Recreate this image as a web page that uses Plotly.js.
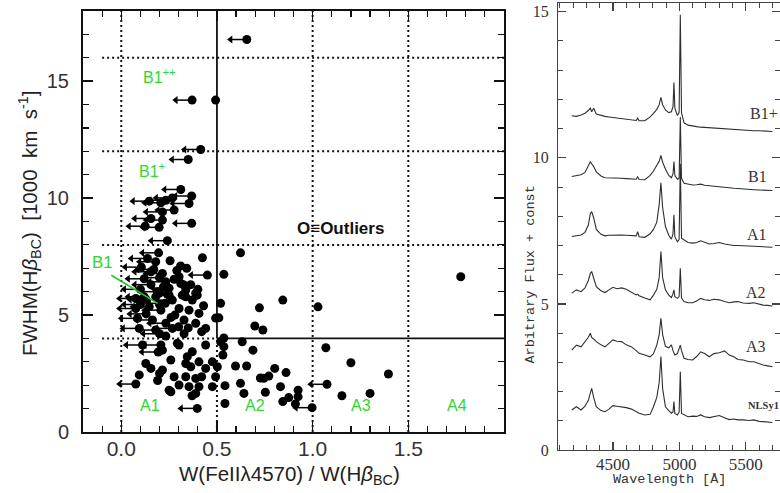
<!DOCTYPE html>
<html><head><meta charset="utf-8">
<script src="https://cdn.plot.ly/plotly-3.0.1.min.js"></script>
<style>html,body{margin:0;padding:0;background:#fff}#chart{width:780px;height:493px}</style>
</head><body><div id="chart"></div>
<script>
// ---------- Left panel data: FWHM(Hbeta_BC) vs R_FeII ----------
const detX = [0.493,0.623,0.424,0.255,0.342,0.536,0.302,0.276,0.311,0.363,0.328,0.337,0.389,0.198,0.25,0.319,0.397,0.18,0.337,0.371,0.519,0.302,0.354,0.406,0.493,0.51,0.328,0.389,0.441,0.328,0.233,0.42,0.844,0.722,1.028,0.698,0.74,1.774,
0.536,0.519,0.632,0.441,0.536,1.069,0.688,0.531,0.476,1.2,0.597,0.655,0.502,0.802,0.861,1.396,0.771,0.727,0.745,0.42,0.493,0.623,0.542,0.476,0.832,0.924,0.641,0.753,1.153,1.3,0.924,0.875,0.844,0.91,0.542,
0.302,0.215,0.345,0.371,0.406,0.128,0.155,0.215,0.259,0.337,0.363,0.441,0.094,0.276,0.337,0.389,0.302,0.354,0.406,0.25,0.389,0.293,0.19,0.2,0.37,0.259,
0.28,0.3,0.24,0.22,0.29,0.31,0.4,0.43,0.26,0.35,0.2];
const detY = [14.19,7.66,7.45,7.32,7.0,6.74,6.64,6.53,6.35,6.3,6.28,6.07,5.93,5.93,5.85,5.85,5.85,5.78,5.78,5.64,5.5,5.28,5.21,5.07,4.87,4.88,4.79,4.65,4.43,4.2,4.1,4.29,5.64,5.31,5.35,4.53,4.36,6.64,
4.02,3.86,3.86,3.72,3.65,3.6,3.5,3.29,3.0,2.96,2.82,2.82,2.79,2.72,2.54,2.48,2.39,2.31,2.3,2.36,2.36,2.08,1.98,1.94,1.94,1.79,1.65,1.7,1.55,1.65,1.51,1.47,1.3,1.2,1.22,
3.72,3.5,3.22,3.43,3.0,2.93,2.72,2.65,3.08,2.93,2.79,2.72,2.44,2.36,2.36,2.29,2.01,1.94,1.94,1.79,1.65,3.79,2.2,2.5,1.55,1.72,
5.0,4.5,5.9,6.2,6.9,7.1,6.1,5.4,4.9,4.45,5.45];
// upper limits in FeII (leftward arrows)
const limX = [0.656,0.37,0.415,0.35,0.311,0.368,0.267,0.233,0.146,0.207,0.354,0.276,0.215,0.155,0.215,0.368,0.125,0.198,0.241,0.195,0.137,0.18,0.155,0.215,0.45,0.233,0.155,0.13,0.076,0.267,0.076,0.146,0.207,0.085,0.163,0.233,0.094,0.18,0.267,0.111,0.207,0.193,0.076,0.397,0.997,1.075,0.12,0.189,0.105,0.17,0.12,0.2,0.1,0.25,0.1,0.23,0.13,0.2];
const limY = [16.78,14.19,12.08,11.65,10.37,10.09,10.01,9.91,9.87,9.8,9.77,9.49,9.41,9.13,9.06,8.92,8.8,8.75,8.18,7.66,7.42,7.28,6.85,6.78,6.71,6.42,6.3,5.66,5.71,5.64,5.28,5.36,5.21,4.86,4.79,4.65,4.43,4.36,4.43,3.72,3.72,3.42,2.05,1.01,1.04,2.04,5.78,6.0,7.05,6.95,6.55,6.6,6.1,6.15,5.45,5.5,5.05,4.2];
const fwhmBounds = [4, 8, 12, 16];
const feBounds = [0, 0.5, 1.0, 1.5];
const xTickVals = [0, 0.5, 1.0, 1.5];
const xTickText = ['0.0', '0.5', '1.0', '1.5'];
const yTickVals = [0, 5, 10, 15];
const zoneLabels = ['A1', 'A2', 'A3', 'A4'];
const zoneLabelX = [0.151, 0.7, 1.252, 1.755];
const zoneLabelY = 1.15;

// ---------- Right panel data: composite spectra ----------
const wavelength = [4190,4225,4260,4290,4315,4330,4340,4355,4375,4410,4440,4470,4500,4530,4565,4600,4640,4675,4686,4697,4740,4780,4805,4830,4848,4861,4874,4895,4920,4940,4952,4959,4966,4985,4998,5007,5016,5035,5065,5100,5130,5160,5190,5225,5260,5300,5340,5375,5410,5440,5480,5525,5560,5600,5630,5665,5700];
const fluxB1plus = [11.44,11.42,11.47,11.53,11.62,11.70,11.58,11.70,11.50,11.45,11.42,11.40,11.38,11.36,11.33,11.32,11.30,11.28,11.36,11.27,11.27,11.40,11.52,11.66,11.82,12.07,11.82,11.64,11.55,11.58,11.75,12.58,11.70,11.45,11.55,14.90,11.55,11.20,11.12,11.08,11.07,11.05,11.04,11.02,11.02,11.00,10.99,10.98,10.97,10.96,10.95,10.94,10.93,10.93,10.92,10.91,10.90];
const fluxB1 = [9.36,9.38,9.42,9.50,9.70,9.87,9.80,9.70,9.52,9.38,9.32,9.32,9.31,9.30,9.30,9.29,9.28,9.27,9.35,9.26,9.25,9.40,9.55,9.72,9.88,10.08,9.85,9.62,9.40,9.32,9.45,9.87,9.40,9.27,9.30,11.40,9.30,9.13,9.10,9.07,9.08,9.10,9.06,9.04,9.02,9.01,8.99,8.97,8.96,8.95,8.93,8.92,8.91,8.90,8.90,8.89,8.88];
const fluxA1 = [7.31,7.34,7.36,7.45,7.70,8.10,8.16,7.95,7.55,7.38,7.33,7.35,7.36,7.37,7.36,7.35,7.34,7.33,7.47,7.30,7.28,7.40,7.55,7.80,8.40,9.15,8.30,7.65,7.35,7.22,7.40,8.05,7.30,7.13,7.20,9.80,7.25,7.18,7.10,7.08,7.10,7.16,7.10,7.05,7.07,7.10,7.05,7.02,7.00,7.00,6.99,6.98,6.97,6.96,6.95,6.95,6.94];
const fluxA2 = [5.37,5.48,5.42,5.55,5.80,6.05,6.11,5.85,5.59,5.45,5.39,5.48,5.57,5.52,5.55,5.50,5.40,5.31,5.33,5.28,5.20,5.14,5.30,5.50,5.90,6.79,5.90,5.48,5.30,5.22,5.35,5.48,5.25,5.19,5.25,6.22,5.20,5.08,5.04,5.04,5.10,5.19,5.14,5.12,5.16,5.14,5.08,5.04,5.07,5.08,5.03,5.02,5.04,4.98,4.96,4.95,4.93];
const fluxA3 = [3.42,3.59,3.53,3.70,3.86,4.00,3.85,3.80,3.71,3.60,3.53,3.65,3.77,3.72,3.71,3.60,3.53,3.40,3.35,3.31,3.25,3.19,3.30,3.59,3.95,4.51,3.95,3.55,3.50,3.60,3.40,3.30,3.25,3.30,3.45,3.59,3.40,3.14,3.10,3.08,3.20,3.36,3.30,3.19,3.30,3.33,3.39,3.25,3.19,3.10,3.08,3.02,3.02,2.95,2.91,2.88,2.85];
const fluxNLSy1 = [1.37,1.48,1.37,1.50,1.70,2.00,2.11,1.80,1.48,1.35,1.31,1.40,1.52,1.50,1.48,1.45,1.40,1.31,1.30,1.26,1.20,1.22,1.48,1.80,2.30,3.20,2.10,1.48,1.35,1.26,1.30,1.66,1.25,1.20,1.30,2.68,1.25,1.20,1.14,1.16,1.15,1.20,1.14,1.11,1.15,1.18,1.10,1.04,1.06,1.03,1.03,1.01,1.03,0.98,0.97,0.96,0.94];
const spectra = [fluxB1plus, fluxB1, fluxA1, fluxA2, fluxA3, fluxNLSy1];
const spectrumLabels = ['B1+', 'B1', 'A1', 'A2', 'A3', 'NLSy1'];
const spectrumLabelX = [5640, 5590, 5582, 5578, 5578, 5631];
const spectrumLabelY = [11.53, 9.35, 7.39, 5.40, 3.54, 1.54];
const x2TickVals = [4500, 5000, 5500];
const y2TickVals = [0, 5, 10, 15];

// ---------- build traces ----------
const ARROW = 0.085;
const shaftX = [], shaftY = [], headX = [];
limX.forEach((x, i) => { shaftX.push(x, x - ARROW, null); shaftY.push(limY[i], limY[i], null); headX.push(x - ARROW); });

const traces = [
  {x: shaftX, y: shaftY, mode: 'lines', line: {color: '#000', width: 1.5}, xaxis: 'x', yaxis: 'y', hoverinfo: 'skip'},
  {x: headX, y: limY, mode: 'markers', marker: {symbol: 'triangle-left', size: 7, color: '#000'}, xaxis: 'x', yaxis: 'y'},
  {x: limX, y: limY, mode: 'markers', marker: {symbol: 'circle', size: 9, color: '#000'}, xaxis: 'x', yaxis: 'y'},
  {x: detX, y: detY, mode: 'markers', marker: {symbol: 'circle', size: 9, color: '#000'}, xaxis: 'x', yaxis: 'y'}
];
spectra.forEach(f => traces.push({x: wavelength, y: f, mode: 'lines', line: {color: '#2e2e2e', width: 1.1}, xaxis: 'x2', yaxis: 'y2', hoverinfo: 'skip'}));

// ---------- shapes (zone boundaries) ----------
const dotLine = {color: '#111', width: 2, dash: '2px,3px'};
const solidLine = {color: '#111', width: 1.8};
const shapes = [];
fwhmBounds.forEach(v => {
  if (v === 4) {
    shapes.push({type: 'line', xref: 'x', yref: 'y', x0: -0.1, x1: 0.5, y0: v, y1: v, line: dotLine, layer: 'below'});
    shapes.push({type: 'line', xref: 'x', yref: 'y', x0: 0.5, x1: 2.0, y0: v, y1: v, line: solidLine, layer: 'below'});
  } else {
    shapes.push({type: 'line', xref: 'x', yref: 'y', x0: -0.1, x1: 2.0, y0: v, y1: v, line: dotLine, layer: 'below'});
  }
});
feBounds.forEach(v => {
  if (v === 0.5) {
    shapes.push({type: 'line', xref: 'x', yref: 'y', x0: v, x1: v, y0: 0, y1: 4, line: dotLine, layer: 'below'});
    shapes.push({type: 'line', xref: 'x', yref: 'y', x0: v, x1: v, y0: 4, y1: 18, line: solidLine, layer: 'below'});
  } else {
    shapes.push({type: 'line', xref: 'x', yref: 'y', x0: v, x1: v, y0: 0, y1: 18, line: dotLine, layer: 'below'});
  }
});
// B1 pointer line
shapes.push({type: 'line', xref: 'x', yref: 'y', x0: -0.052, y0: 6.7, x1: 0.19, y1: 5.5, line: {color: '#22cc22', width: 1.6}});

// ---------- annotations ----------
const green = '#2fd62f';
const sans = 'Liberation Sans, Arial, sans-serif';
const serif = 'Liberation Serif, Times New Roman, serif';
const mono = 'Liberation Mono, Courier New, monospace';
const ann = [];
zoneLabels.forEach((t, i) => ann.push({xref: 'x', yref: 'y', x: zoneLabelX[i], y: zoneLabelY, text: t, showarrow: false, font: {family: sans, size: 16, color: green}}));
ann.push({xref: 'x', yref: 'y', x: 0.198, y: 15.21, text: 'B1<sup>++</sup>', showarrow: false, font: {family: sans, size: 16, color: green}});
ann.push({xref: 'x', yref: 'y', x: 0.161, y: 11.2, text: 'B1<sup>+</sup>', showarrow: false, font: {family: sans, size: 16, color: green}});
ann.push({xref: 'x', yref: 'y', x: -0.099, y: 7.26, text: 'B1', showarrow: false, font: {family: sans, size: 17, color: green}});
ann.push({xref: 'x', yref: 'y', x: 1.143, y: 8.72, text: '<b>O≡Outliers</b>', showarrow: false, font: {family: sans, size: 17, color: '#111'}});
ann.push({xref: 'paper', yref: 'paper', x: 289/780, y: (493-475)/493, text: 'W(FeIIλ4570) / W(H<i>β</i><sub>BC</sub>)', showarrow: false, xanchor: 'center', yanchor: 'middle', font: {family: sans, size: 20.5, color: '#222'}});
ann.push({xref: 'paper', yref: 'paper', x: 29/780, y: (493-224)/493, text: 'FWHM(H<i>β</i><sub>BC</sub>)  [1000  km  s<sup>-1</sup>]', showarrow: false, textangle: -90, xanchor: 'center', yanchor: 'middle', font: {family: sans, size: 20.5, color: '#222'}});
spectrumLabels.forEach((t, i) => ann.push({xref: 'x2', yref: 'y2', x: spectrumLabelX[i], y: spectrumLabelY[i], text: t, showarrow: false,
  font: {family: serif, size: t === 'NLSy1' ? 10.5 : 16, color: '#333', weight: t === 'NLSy1' ? 700 : 400}}));
ann.push({xref: 'paper', yref: 'paper', x: 530/780, y: (493-274.5)/493, text: 'Arbitrary Flux + const', showarrow: false, textangle: -90, xanchor: 'center', yanchor: 'middle', font: {family: mono, size: 13.5, color: '#333'}});
ann.push({xref: 'paper', yref: 'paper', x: 669/780, y: (493-479)/493, text: 'Wavelength [Å]', showarrow: false, xanchor: 'center', yanchor: 'middle', font: {family: mono, size: 13.5, color: '#333'}});

const layout = {
  width: 780, height: 493,
  margin: {l: 0, r: 0, t: 0, b: 0},
  paper_bgcolor: '#fff', plot_bgcolor: '#fff',
  showlegend: false,
  xaxis: {domain: [83/780, 504/780], range: [-0.2, 2.0], anchor: 'y', showgrid: false, zeroline: false,
    showline: true, linecolor: '#111', linewidth: 2, mirror: 'ticks', ticks: 'inside', ticklen: 10, tickwidth: 1.5, tickcolor: '#111',
    tickmode: 'array', tickvals: xTickVals, ticktext: xTickText, ticklabelstandoff: -3,
    tickfont: {family: sans, size: 21, color: '#333'},
    minor: {tickmode: 'linear', tick0: 0, dtick: 0.1, ticks: 'inside', ticklen: 6, tickwidth: 1.2, tickcolor: '#111'}},
  yaxis: {domain: [61/493, 482/493], range: [0, 18], anchor: 'x', showgrid: false, zeroline: false,
    showline: true, linecolor: '#111', linewidth: 2, mirror: 'ticks', ticks: 'inside', ticklen: 10, tickwidth: 1.5, tickcolor: '#111',
    tickmode: 'array', tickvals: yTickVals, ticklabelstandoff: 8,
    tickfont: {family: sans, size: 20, color: '#333'},
    minor: {tickmode: 'linear', tick0: 0, dtick: 1, ticks: 'inside', ticklen: 6, tickwidth: 1.2, tickcolor: '#111'}},
  xaxis2: {domain: [558.3/780, 1], range: [4089, 5757], anchor: 'y2', showgrid: false, zeroline: false,
    showline: true, linecolor: '#444', linewidth: 1.3, mirror: 'ticks', ticks: 'inside', ticklen: 8, tickwidth: 1.2, tickcolor: '#444',
    tickmode: 'array', tickvals: x2TickVals, ticklabelstandoff: -2,
    tickfont: {family: serif, size: 17, color: '#333'},
    minor: {tickmode: 'linear', tick0: 0, dtick: 100, ticks: 'inside', ticklen: 5, tickwidth: 1, tickcolor: '#444'}},
  yaxis2: {domain: [43/493, 489.7/493], range: [0, 15.29], anchor: 'x2', showgrid: false, zeroline: false,
    showline: true, linecolor: '#444', linewidth: 1.3, mirror: 'ticks', ticks: 'inside', ticklen: 8, tickwidth: 1.2, tickcolor: '#444',
    tickmode: 'array', tickvals: y2TickVals, ticklabelstandoff: 5,
    tickfont: {family: serif, size: 16, color: '#333'},
    minor: {tickmode: 'linear', tick0: 0, dtick: 1, ticks: 'inside', ticklen: 5, tickwidth: 1, tickcolor: '#444'}},
  shapes: shapes,
  annotations: ann
};
Plotly.newPlot('chart', traces, layout, {displayModeBar: false, staticPlot: true});
</script>
</body></html>
